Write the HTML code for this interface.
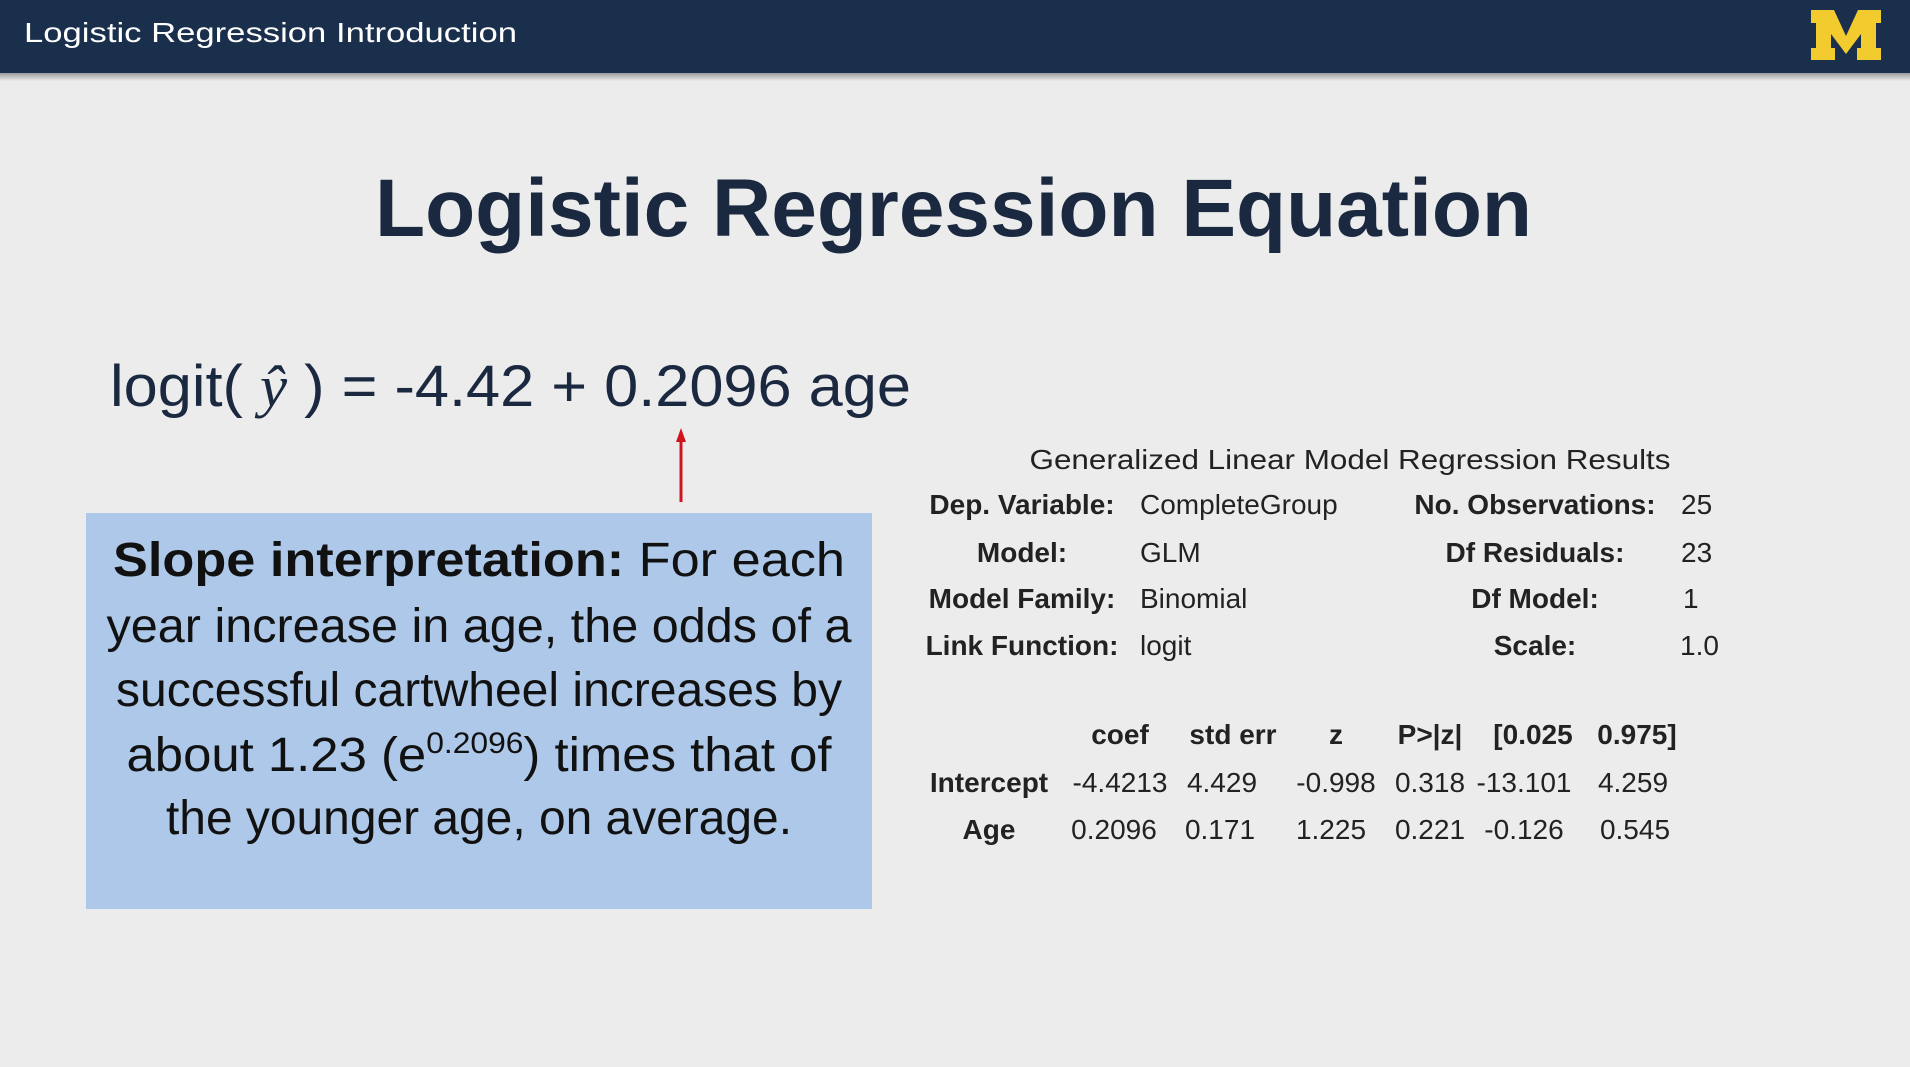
<!DOCTYPE html>
<html><head><meta charset="utf-8"><style>
html,body{margin:0;padding:0;background:#ececec;}
svg{display:block;}
</style></head><body>
<svg width="1910" height="1067" viewBox="0 0 1910 1067" xmlns="http://www.w3.org/2000/svg">
<defs><linearGradient id="sh" x1="0" y1="0" x2="0" y2="1"><stop offset="0" stop-color="#000" stop-opacity="0.35"/><stop offset="1" stop-color="#000" stop-opacity="0"/></linearGradient></defs>
<rect width="1910" height="1067" fill="#ececec"/>
<rect x="0" y="0" width="1910" height="73" fill="#1a2f4c"/>
<rect x="0" y="73" width="1910" height="8" fill="url(#sh)"/>
<text x="24" y="42" font-family="Liberation Sans, sans-serif" font-size="28" fill="#fff" textLength="493" lengthAdjust="spacingAndGlyphs">Logistic Regression Introduction</text>
<polygon fill="#f2cb2e" points="1811,10 1834,10 1846,36 1858,10 1881,10 1881,23 1876,23 1876,48 1881,48 1881,60 1857,60 1857,48 1861,48 1861,34 1846,54 1831,34 1831,48 1835,48 1835,60 1811,60 1811,48 1816,48 1816,23 1811,23"/>
<text x="375" y="236" font-family="Liberation Sans, sans-serif" font-size="82" font-weight="bold" fill="#1a2840" textLength="1157" lengthAdjust="spacingAndGlyphs">Logistic Regression Equation</text>
<text x="110" y="406" font-family="Liberation Sans, sans-serif" font-size="58" fill="#1a2840" textLength="801" lengthAdjust="spacingAndGlyphs">logit( <tspan font-family="Liberation Serif, serif" font-style="italic">ŷ</tspan> ) = -4.42 + 0.2096 age</text>
<line x1="681" y1="438" x2="681" y2="502" stroke="#d0141e" stroke-width="3"/>
<polygon points="681,428 676,442 686,442" fill="#d0141e"/>
<rect x="86" y="513" width="786" height="396" fill="#adc8e8"/>
<g font-family="Liberation Sans, sans-serif" font-size="48" fill="#111" text-anchor="middle">
<text x="479" y="576" textLength="732" lengthAdjust="spacingAndGlyphs"><tspan font-weight="bold">Slope interpretation:</tspan> For each</text>
<text x="479" y="642" textLength="745" lengthAdjust="spacingAndGlyphs">year increase in age, the odds of a</text>
<text x="479" y="706" textLength="726" lengthAdjust="spacingAndGlyphs">successful cartwheel increases by</text>
<text x="479" y="771" textLength="705" lengthAdjust="spacingAndGlyphs">about 1.23 (e<tspan font-size="30" dy="-18">0.2096</tspan><tspan dy="18">) times that of</tspan></text>
<text x="479" y="834" textLength="626" lengthAdjust="spacingAndGlyphs">the younger age, on average.</text>
</g>
<g font-family="Liberation Sans, sans-serif" font-size="28" fill="#222">
<text x="1350" y="469" text-anchor="middle" textLength="641" lengthAdjust="spacingAndGlyphs">Generalized Linear Model Regression Results</text>
<g font-weight="bold" text-anchor="middle">
<text x="1022" y="514">Dep. Variable:</text>
<text x="1022" y="562">Model:</text>
<text x="1022" y="608">Model Family:</text>
<text x="1022" y="655">Link Function:</text>
<text x="1535" y="514">No. Observations:</text>
<text x="1535" y="562">Df Residuals:</text>
<text x="1535" y="608">Df Model:</text>
<text x="1535" y="655">Scale:</text>
</g>
<text x="1140" y="514">CompleteGroup</text>
<text x="1140" y="562">GLM</text>
<text x="1140" y="608">Binomial</text>
<text x="1140" y="655">logit</text>
<text x="1681" y="514">25</text>
<text x="1681" y="562">23</text>
<text x="1683" y="608">1</text>
<text x="1680" y="655">1.0</text>
<g font-weight="bold" text-anchor="middle">
<text x="1120" y="744">coef</text>
<text x="1233" y="744">std err</text>
<text x="1336" y="744">z</text>
<text x="1430" y="744">P&gt;|z|</text>
<text x="1533" y="744">[0.025</text>
<text x="1637" y="744">0.975]</text>
<text x="989" y="792">Intercept</text>
<text x="989" y="839">Age</text>
</g>
<g text-anchor="middle">
<text x="1120" y="792">-4.4213</text><text x="1222" y="792">4.429</text><text x="1336" y="792">-0.998</text><text x="1430" y="792">0.318</text><text x="1524" y="792">-13.101</text><text x="1633" y="792">4.259</text>
<text x="1114" y="839">0.2096</text><text x="1220" y="839">0.171</text><text x="1331" y="839">1.225</text><text x="1430" y="839">0.221</text><text x="1524" y="839">-0.126</text><text x="1635" y="839">0.545</text>
</g>
</g>
</svg>
</body></html>
